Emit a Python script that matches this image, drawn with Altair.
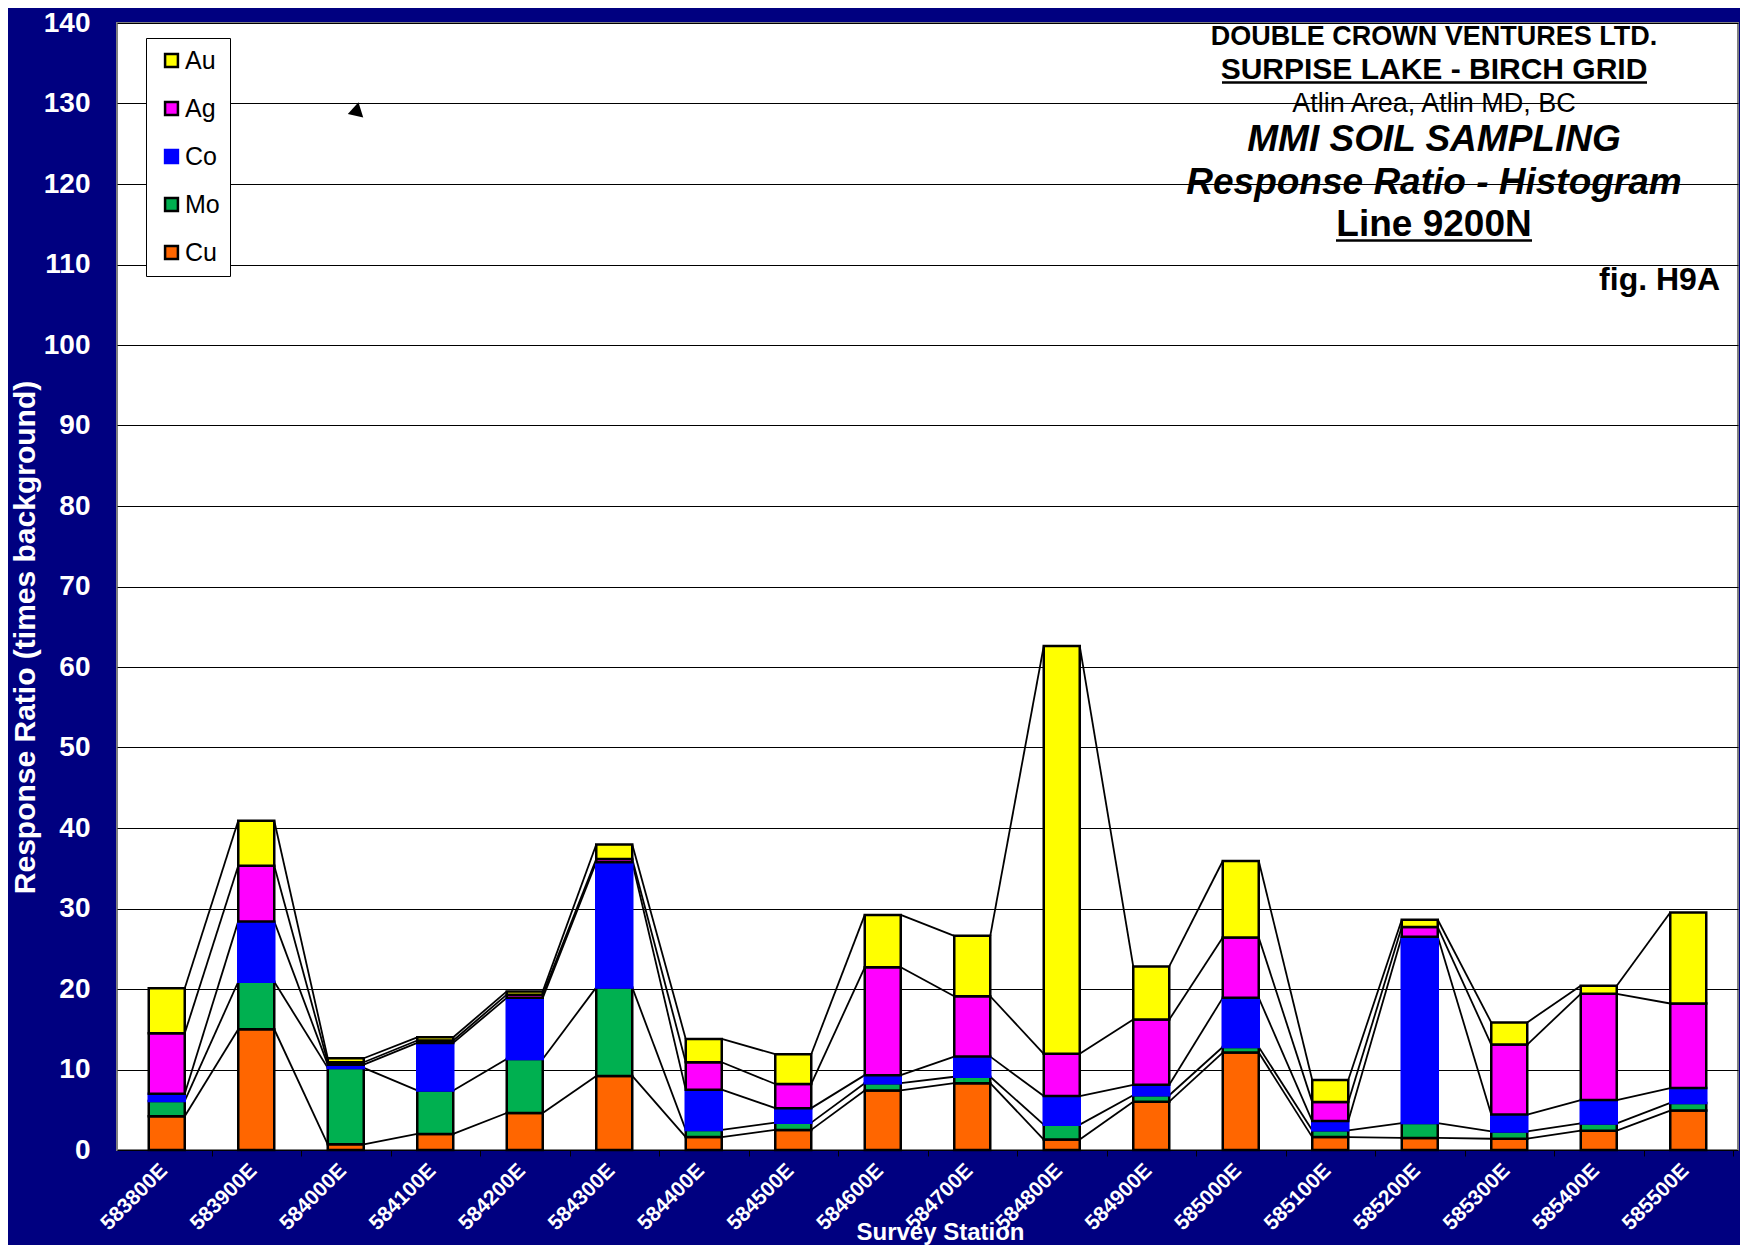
import json
import altair as alt
import pandas as pd

# ---------------- data ----------------
stations = ["583800E", "583900E", "584000E", "584100E", "584200E", "584300E",
            "584400E", "584500E", "584600E", "584700E", "584800E", "584900E",
            "585000E", "585100E", "585200E", "585300E", "585400E", "585500E"]

cu = [4.2, 15.0, 0.7, 2.0, 4.6, 9.2, 1.6, 2.5, 7.4, 8.3, 1.3, 6.0, 12.1, 1.6, 1.5, 1.4, 2.4, 4.9]
mo = [1.9, 5.9, 9.5, 5.4, 6.7, 11.0, 0.9, 0.9, 0.9, 0.8, 1.85, 0.8, 0.7, 0.85, 1.85, 0.9, 0.9, 0.95]
co = [0.9, 7.5, 0.4, 5.9, 7.6, 15.55, 5.0, 1.8, 1.0, 2.5, 3.55, 1.3, 6.1, 1.15, 23.15, 2.1, 2.9, 1.85]
ag = [7.5, 6.9, 0.3, 0.3, 0.4, 0.4, 3.4, 3.0, 13.4, 7.5, 5.25, 8.1, 7.5, 2.35, 1.2, 8.7, 13.2, 10.5]
au = [5.6, 5.6, 0.5, 0.4, 0.4, 1.8, 2.9, 3.7, 6.5, 7.5, 50.65, 6.6, 9.5, 2.75, 0.9, 2.75, 1.0, 11.3]

stack_order = ["Cu", "Mo", "Co", "Ag", "Au"]          # bottom -> top
legend_order = ["Au", "Ag", "Co", "Mo", "Cu"]         # legend top -> bottom
fill_colors = ["#FFFF00", "#FF00FF", "#0000FF", "#00B050", "#FF6600"]
edge_colors = ["#000000", "#000000", "#0000FF", "#000000", "#000000"]

y_ticks = list(range(0, 141, 10))

# ---------------- build tables ----------------
series = {"Cu": cu, "Mo": mo, "Co": co, "Ag": ag, "Au": au}
bar_rows = []
cum_levels = {k: [] for k in stack_order}
for i, st in enumerate(stations):
    base = 0.0
    for el in stack_order:
        top = base + series[el][i]
        bar_rows.append({"idx": i, "station": st, "element": el, "lo": base, "hi": top})
        cum_levels[el].append(top)
        base = top
bars_df = pd.DataFrame(bar_rows)

line_rows = []
for el in stack_order:
    lv = cum_levels[el]
    for i in range(len(stations) - 1):
        line_rows.append({"i0": i, "i1": i + 1, "y0": lv[i], "y1": lv[i + 1], "element": el})
lines_df = pd.DataFrame(line_rows)

FONT = "Liberation Sans"
NAVY = "#000080"
W, H = 1621, 1127
TOP = 15            # top padding; plot top sits at page y = 8 + TOP
BAR_W = 36
HALF_CAT = W / len(stations) / 2

xscale = alt.Scale(domain=[-0.5, len(stations) - 0.5], nice=False, zero=False)
yscale = alt.Scale(domain=[0, 140], nice=False)

label_expr = json.dumps(stations) + "[datum.value]"

x_axis = alt.Axis(
    values=list(range(len(stations))), labelExpr=label_expr,
    labelAngle=-45, labelAlign="right", labelBaseline="middle",
    labelFont=FONT, labelFontSize=21, labelFontWeight="bold", labelColor="white",
    labelPadding=11, labelFlush=False, labelOverlap=False, labelBound=False,
    ticks=True, tickColor="black", tickSize=6, tickOffset=HALF_CAT,
    labelOffset=-HALF_CAT - 3,
    domain=False, grid=False,
    title="Survey Station", titleFont=FONT, titleFontSize=24, titleFontWeight="bold",
    titleColor="white", titleX=823, titleY=89, titleAlign="center",
    titleBaseline="alphabetic",
)
y_axis = alt.Axis(
    values=y_ticks, labelFont=FONT, labelFontSize=28, labelFontWeight="bold",
    labelColor="white", labelPadding=27, ticks=False, domain=False,
    grid=True, gridColor="black", gridWidth=1,
    title="Response Ratio (times background)", titleFont=FONT, titleFontSize=30,
    titleFontWeight="bold", titleColor="white", titleAngle=270,
    titleX=-92, titleY=637 - 8 - TOP, titleAlign="center", titleBaseline="middle",
)

series_lines = alt.Chart(lines_df).mark_rule(
    color="black", strokeWidth=1.8, xOffset=BAR_W / 2, x2Offset=-BAR_W / 2
).encode(
    x=alt.X("i0:Q", scale=xscale, axis=x_axis),
    x2="i1:Q",
    y=alt.Y("y0:Q", scale=yscale, axis=y_axis),
    y2="y1:Q",
)

legend = alt.Legend(title=None)
bars = alt.Chart(bars_df).mark_bar(width=BAR_W, strokeWidth=2.5).encode(
    x=alt.X("idx:Q", scale=xscale, axis=x_axis),
    y=alt.Y("lo:Q", scale=yscale, axis=y_axis),
    y2="hi:Q",
    color=alt.Color("element:N", scale=alt.Scale(domain=legend_order, range=fill_colors), legend=legend),
    stroke=alt.Stroke("element:N", scale=alt.Scale(domain=legend_order, range=edge_colors), legend=legend),
)

# ---------------- title block text ----------------
PT = 8 + TOP  # page y of plot top
title_lines = ["DOUBLE CROWN VENTURES LTD.", "SURPISE LAKE - BIRCH GRID",
               "Atlin Area, Atlin MD, BC", "MMI SOIL SAMPLING",
               "Response Ratio - Histogram", "Line 9200N"]
title_sizes = [27, 30, 27, 37, 37, 37]
title_weights = ["bold", "bold", "normal", "bold", "bold", "bold"]
title_styles = ["normal", "normal", "normal", "italic", "italic", "normal"]
title_base = [45, 78.7, 112.3, 151.2, 193.9, 236.2]   # page-y baselines
TITLE_CX = 1317

one = pd.DataFrame({"k": [0]})
layers = [series_lines, bars]
for txt, fs, fw, fst, yy in zip(title_lines, title_sizes, title_weights, title_styles, title_base):
    layers.append(
        alt.Chart(one).mark_text(
            text=txt, font=FONT, fontSize=fs, fontWeight=fw, fontStyle=fst,
            color="black", align="center", baseline="alphabetic"
        ).encode(x=alt.value(TITLE_CX), y=alt.value(yy - PT))
    )
layers.append(
    alt.Chart(one).mark_text(
        text="fig. H9A", font=FONT, fontSize=32, fontWeight="bold",
        color="black", align="right", baseline="alphabetic"
    ).encode(x=alt.value(1603), y=alt.value(290 - PT))
)
# underlines for the underlined title lines
for x1, x2, yy in [(1105, 1530, 82.5), (1219, 1415, 240.5)]:
    layers.append(
        alt.Chart(one).mark_rule(color="black", strokeWidth=2.5).encode(
            x=alt.value(x1), x2=alt.value(x2), y=alt.value(yy - PT)
        )
    )
# small stray arrowhead present in the original
layers.append(
    alt.Chart(one).mark_point(shape="triangle-up", filled=True, color="black",
                              size=250, angle=12.5, opacity=1).encode(
        x=alt.value(240), y=alt.value(109 - PT)
    )
)

chart = alt.layer(*layers).properties(
    width=W, height=H,
    background=NAVY,
    padding={"left": 109, "top": TOP, "right": 2, "bottom": 95},
    autosize=alt.AutoSizeParams(type="none"),
).configure_view(
    fill="white", stroke="#808080", strokeWidth=2
).configure_legend(
    orient="none", legendX=29, legendY=38 - PT,
    fillColor="white", strokeColor="black", strokeWidth=1,
    padding=10, symbolType="square", symbolSize=165, symbolStrokeWidth=2.5,
    symbolOffset=3, labelFont=FONT, labelFontSize=25, labelColor="black",
    labelOffset=1, rowPadding=22, labelLimit=200,
)

chart.save("out.html", embed_options={"renderer": "svg", "actions": False})
